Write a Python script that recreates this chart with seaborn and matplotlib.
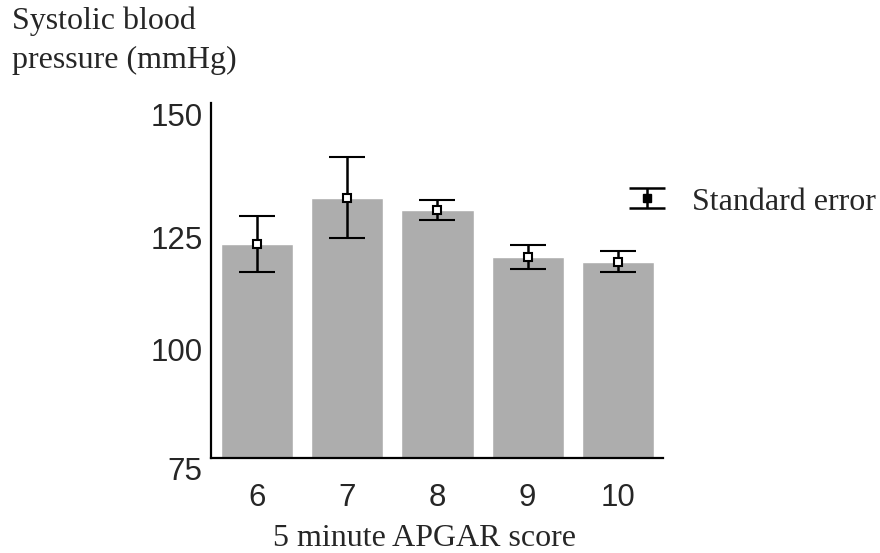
import matplotlib
matplotlib.use("Agg")
import matplotlib.pyplot as plt
from matplotlib.transforms import ScaledTranslation
import seaborn as sns
import numpy as np

# Data
apgar_scores = ["6", "7", "8", "9", "10"]
mean_sbp = [120.2, 130.0, 127.4, 117.4, 116.5]
std_error = [5.85, 8.6, 2.15, 2.5, 2.2]
y_ticks = [75, 100, 125, 150]

sns.set_style("white")
plt.rcParams["font.family"] = ["Liberation Sans", "DejaVu Sans"]

fig = plt.figure(figsize=(8.8, 5.53), dpi=100)
ax = fig.add_axes([211 / 880, 95 / 553, 452 / 880, 355 / 553])

sns.barplot(x=apgar_scores, y=mean_sbp, order=apgar_scores, color="#adadad",
            saturation=1, width=0.8, errorbar=None, ax=ax, zorder=1)
ax.errorbar(x=np.arange(len(apgar_scores)), y=mean_sbp, yerr=std_error,
            fmt="s", ms=6, mfc="white", mec="black", mew=1.5,
            ecolor="black", elinewidth=1.8, capsize=13.3, capthick=1.8, zorder=3)

ax.set_xlim(-0.51, 4.5)
ax.set_ylim(75, 150)
ax.set_yticks(y_ticks)
ax.set_yticklabels([str(t) for t in y_ticks])
ax.tick_params(axis="y", length=0, pad=6, labelsize=22.5)
ax.tick_params(axis="x", length=0, pad=18, labelsize=22.5)
ax.set_xlabel("")
ax.set_ylabel("")

for s in ["top", "right"]:
    ax.spines[s].set_visible(False)
for s in ["left", "bottom"]:
    ax.spines[s].set_color("black")
    ax.spines[s].set_linewidth(1.6)

# shift y tick labels slightly downward as in the reference
offsets_px = [10, 10, 16, 12]
for lab, off in zip(ax.get_yticklabels(), offsets_px):
    lab.set_transform(lab.get_transform() + ScaledTranslation(0, -off / 100, fig.dpi_scale_trans))

serif = ["Liberation Serif", "DejaVu Serif"]
fig.text(12 / 880, 1 - 6 / 553, "Systolic blood\npressure (mmHg)", ha="left", va="top",
         fontsize=23, family=serif, linespacing=1.45)
fig.text(424 / 880, 1 - 538 / 553, "5 minute APGAR score", ha="center", va="center",
         fontsize=23, family=serif)

# legend for standard error
ax.errorbar([0.964], [0.7315], yerr=[0.0282], transform=ax.transAxes, fmt="s", ms=6,
            mfc="black", mec="black", ecolor="black", elinewidth=1.8,
            capsize=13.3, capthick=1.8, clip_on=False, zorder=3)
ax.text(1.064, 0.721, "Standard error", transform=ax.transAxes, ha="left", va="center",
        fontsize=23, family=serif, clip_on=False)

fig.savefig("out.png", dpi=100, facecolor="white")
